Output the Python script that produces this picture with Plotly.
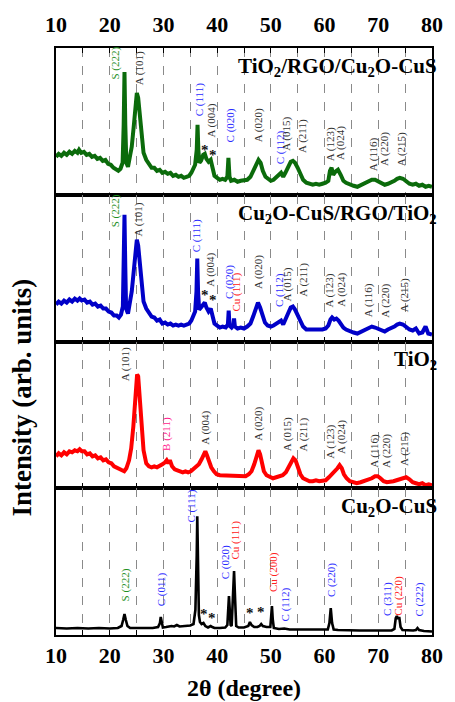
import plotly.graph_objects as go
from plotly.subplots import make_subplots

# ---------------- data (y = intensity in arb. units) ----------------
tt_x = [10.0, 10.5, 11.0, 11.5, 12.0, 12.5, 13.0, 13.5, 14.0, 14.3, 14.7, 15.2, 15.7, 16.2, 16.7, 17.2, 17.7, 18.2, 18.7, 19.2,
        19.7, 20.2, 20.7, 21.2, 21.6, 22.0, 22.4, 22.6, 22.75, 22.9, 23.1, 23.4, 23.7, 24.1, 24.5, 24.8, 25.05, 25.3, 25.6, 25.9,
        26.3, 26.8, 27.3, 27.8, 28.3, 28.8, 29.3, 29.8, 30.3, 30.8, 31.3, 31.8, 32.3, 32.8, 33.3, 33.8, 34.3, 34.8, 35.2, 35.6,
        35.9, 36.2, 36.35, 36.5, 36.7, 37.0, 37.4, 37.7, 38.0, 38.4, 38.8, 39.1, 39.5, 40.0, 40.5, 41.0, 41.5, 41.9, 42.1, 42.3,
        42.6, 43.2, 43.8, 44.4, 45.0, 45.6, 46.2, 46.8, 47.3, 47.7, 48.1, 48.5, 49.0, 49.5, 50.0, 50.5, 51.0, 51.5, 51.9, 52.3,
        52.7, 53.2, 53.7, 54.1, 54.5, 55.0, 55.5, 56.0, 56.6, 57.2, 57.8, 58.4, 59.0, 59.6, 60.2, 60.7, 61.0, 61.3, 61.6, 62.0,
        62.5, 63.0, 63.5, 64.0, 64.7, 65.4, 66.1, 66.8, 67.5, 68.2, 68.8, 69.4, 70.0, 70.6, 71.2, 71.8, 72.4, 73.0, 73.5, 74.0,
        74.6, 75.2, 75.8, 76.4, 77.0, 77.6, 78.2, 78.8, 79.4, 80.0]
tio2_rgo_cu2o_cus = [38, 41, 39, 42, 40, 43, 41, 44, 42, 45, 42, 43, 40, 41, 38, 39, 36, 37, 34, 35,
                     31, 30, 27, 25, 24, 26, 32, 70, 123, 70, 32, 28, 35, 48, 70, 92, 102, 97, 78, 58,
                     42, 35, 30, 27, 27, 24, 25, 22, 23, 21, 22, 19, 20, 18, 19, 17, 18, 19, 22, 28,
                     30, 45, 70, 45, 32, 34, 40, 41, 36, 33, 35, 28, 19, 17, 15, 16, 15, 18, 37, 18,
                     14, 15, 13, 14, 14, 15, 18, 24, 31, 35, 32, 24, 18, 16, 14, 15, 17, 20, 22, 18,
                     22, 28, 33, 34, 32, 27, 20, 15, 12, 11, 10, 11, 10, 11, 12, 14, 24, 27, 20, 23,
                     25, 20, 14, 12, 10, 9, 8, 10, 12, 13, 15, 15, 13, 12, 10, 11, 12, 14, 16, 17,
                     16, 13, 11, 10, 11, 9, 10, 8, 9, 8]

bb_x = [10.0, 10.5, 11.0, 11.5, 12.0, 12.5, 13.0, 13.5, 14.0, 14.4, 14.8, 15.3, 15.8, 16.3, 16.8, 17.3, 17.8, 18.3, 18.8, 19.3,
        19.8, 20.3, 20.8, 21.3, 21.7, 22.1, 22.45, 22.6, 22.75, 22.9, 23.05, 23.4, 23.7, 24.1, 24.5, 24.8, 25.05, 25.3, 25.6, 25.9,
        26.3, 26.8, 27.3, 27.8, 28.3, 28.8, 29.3, 29.8, 30.3, 30.8, 31.3, 31.8, 32.3, 32.8, 33.3, 33.8, 34.3, 34.8, 35.2, 35.6,
        35.9, 36.15, 36.3, 36.45, 36.65, 37.0, 37.4, 37.7, 38.0, 38.4, 38.8, 39.1, 39.5, 40.0, 40.5, 41.0, 41.6, 42.0, 42.15, 42.3,
        42.7, 43.0, 43.15, 43.3, 43.8, 44.4, 45.0, 45.6, 46.2, 46.7, 47.2, 47.6, 48.0, 48.4, 48.9, 49.4, 50.0, 50.5, 51.0, 51.5,
        51.9, 52.3, 52.7, 53.2, 53.7, 54.1, 54.5, 55.0, 55.5, 56.0, 56.6, 57.2, 57.8, 58.4, 59.0, 59.6, 60.2, 60.7, 61.1, 61.4,
        61.8, 62.2, 62.6, 63.0, 63.5, 64.0, 64.7, 65.4, 66.1, 66.8, 67.5, 68.2, 68.8, 69.4, 70.0, 70.6, 71.2, 71.8, 72.4, 73.0,
        73.5, 74.0, 74.6, 75.2, 75.8, 76.4, 77.0, 77.6, 78.2, 78.8, 79.3, 80.0]
cu2o_cus_rgo_tio2 = [37, 40, 38, 41, 39, 42, 40, 43, 41, 43, 41, 42, 39, 40, 37, 38, 35, 36, 33, 33,
                     30, 29, 26, 26, 24, 27, 35, 75, 127, 75, 33, 28, 36, 50, 72, 95, 102, 96, 76, 56,
                     40, 33, 28, 25, 24, 21, 22, 18, 19, 17, 18, 16, 17, 16, 17, 16, 17, 18, 21, 26,
                     30, 50, 83, 50, 32, 34, 38, 39, 34, 30, 33, 26, 18, 16, 14, 15, 14, 17, 31, 16,
                     14, 16, 23, 15, 13, 14, 13, 15, 18, 25, 33, 39, 34, 26, 19, 16, 15, 16, 18, 19,
                     21, 17, 21, 28, 34, 35, 32, 26, 20, 15, 12, 12, 11, 12, 11, 12, 13, 16, 22, 24,
                     22, 23, 21, 18, 14, 12, 10, 9, 8, 10, 12, 13, 15, 14, 13, 11, 10, 12, 13, 15,
                     17, 18, 17, 14, 12, 11, 13, 8, 9, 15, 8, 7]

rr_x = [10.0, 10.5, 11.0, 11.5, 12.0, 12.5, 13.0, 13.5, 14.0, 14.4, 14.8, 15.3, 15.8, 16.3, 16.8, 17.3, 17.8, 18.3, 18.8, 19.3,
        19.8, 20.3, 20.8, 21.3, 21.8, 22.3, 22.7, 23.1, 23.6, 24.0, 24.4, 24.8, 25.1, 25.3, 25.6, 25.9, 26.3, 26.8, 27.3, 27.8,
        28.3, 28.8, 29.3, 29.8, 30.3, 30.6, 30.9, 31.2, 31.6, 32.1, 32.6, 33.1, 33.6, 34.1, 34.6, 35.1, 35.6, 36.1, 36.6, 37.1,
        37.5, 37.8, 38.1, 38.5, 38.9, 39.4, 39.9, 40.5, 41.1, 41.7, 42.3, 42.9, 43.5, 44.1, 44.7, 45.3, 45.9, 46.4, 46.9, 47.3,
        47.7, 48.0, 48.3, 48.7, 49.2, 49.8, 50.4, 51.0, 51.6, 52.2, 52.8, 53.3, 53.8, 54.2, 54.6, 55.0, 55.5, 56.0, 56.6, 57.2,
        57.8, 58.4, 59.0, 59.6, 60.2, 60.8, 61.4, 61.9, 62.4, 62.8, 63.2, 63.6, 64.1, 64.7, 65.3, 66.0, 66.7, 67.4, 68.1, 68.8,
        69.4, 69.9, 70.4, 71.0, 71.6, 72.2, 72.8, 73.4, 74.0, 74.6, 75.2, 75.8, 76.4, 77.0, 77.6, 78.2, 78.8, 79.4, 80.0]
tio2 = [32, 35, 33, 36, 34, 37, 36, 38, 37, 39, 37, 37, 34, 35, 32, 33, 30, 31, 28, 29,
        26, 25, 22, 21, 19, 18, 17, 20, 28, 40, 62, 95, 114, 112, 90, 60, 38, 25, 22, 21,
        22, 21, 22, 24, 26, 28, 25, 28, 22, 19, 18, 17, 16, 17, 16, 17, 19, 21, 24, 29,
        35, 37, 33, 26, 21, 17, 14, 13, 13, 12, 13, 12, 13, 12, 13, 12, 14, 17, 24, 32,
        38, 34, 25, 17, 13, 11, 10, 11, 12, 13, 16, 21, 28, 30, 28, 21, 14, 10, 8, 7,
        7, 8, 7, 8, 8, 11, 14, 17, 20, 23, 20, 14, 10, 7, 6, 5, 6, 7, 8, 10,
        12, 12, 10, 7, 6, 6, 7, 8, 9, 11, 11, 9, 6, 5, 4, 5, 3, 4, 3]

kk_x = [10.0, 12.0, 14.0, 16.0, 18.0, 20.0, 21.5, 22.2, 22.5, 22.75, 23.0, 23.3, 23.8, 25.0, 26.0, 27.0, 28.0, 29.0, 29.35, 29.5,
        29.65, 29.9, 30.5, 31.5, 32.0, 32.5, 33.0, 34.0, 35.0, 35.6, 35.95, 36.2, 36.3, 36.42, 36.6, 36.8, 37.1, 37.45, 37.8, 38.3,
        38.8, 39.1, 39.5, 40.5, 41.5, 41.9, 42.05, 42.2, 42.35, 42.5, 42.7, 42.95, 43.15, 43.35, 43.55, 44.0, 45.0, 45.8, 46.1, 46.4,
        46.9, 47.5, 47.9, 48.2, 48.5, 49.2, 49.9, 50.05, 50.2, 50.35, 50.55, 51.5, 52.5, 53.5, 54.5, 55.5, 57.5, 59.5, 60.6, 60.9,
        61.15, 61.4, 61.7, 62.5, 64.5, 66.5, 68.5, 70.5, 72.5, 73.0, 73.25, 73.45, 73.7, 73.9, 74.15, 74.5, 75.5, 76.5, 77.0, 77.3,
        77.6, 78.5, 80.0]
cu2o_cus = [7, 6.5, 7, 6.5, 7, 6.5, 7, 9, 15, 21, 15, 9, 7, 7, 7.5, 7, 7, 8, 12, 18,
            12, 7.5, 8, 9, 8.5, 10, 8.5, 9, 9.5, 11, 25, 80, 119, 80, 20, 13, 11, 12, 9, 7.5,
            9, 8, 7, 7, 7.5, 10, 25, 39, 25, 10, 9, 35, 64, 35, 9, 7.5, 7.5, 9, 13, 10,
            8, 8, 9, 11, 9, 8, 8, 18, 29, 16, 7, 6, 6.5, 5.5, 5.5, 5, 5, 5, 5.5, 12,
            27, 12, 5.5, 5, 4.5, 4.5, 4.5, 4.5, 4.5, 6, 17, 19, 16, 18, 8, 5, 4.5, 4.5, 5, 7,
            5, 4, 3.5]

panel_titles = ["TiO<sub>2</sub>/RGO/Cu<sub>2</sub>O-CuS", "Cu<sub>2</sub>O-CuS/RGO/TiO<sub>2</sub>",
                "TiO<sub>2</sub>", "Cu<sub>2</sub>O-CuS"]
x_tick_values = [10, 20, 30, 40, 50, 60, 70, 80]
x_tick_labels = ["10", "20", "30", "40", "50", "60", "70", "80"]

# peak labels per panel: (text, 2theta, intensity at label foot, phase)
labels_p1 = [("S (222)", 21.0, 113, "S"), ("A (101)", 25.7, 108, "A"), ("C (111)", 36.6, 77, "C"),
             ("A (004)", 39.0, 55, "A"), ("C (020)", 42.5, 50, "C"), ("A (020)", 47.7, 50, "A"),
             ("C (112)", 51.8, 28, "C"), ("A (015)", 53.0, 42, "A"), ("A (211)", 56.0, 40, "A"),
             ("A (123)", 61.1, 32, "A"), ("A (024)", 63.1, 33, "A"), ("A (116)", 69.1, 22, "A"),
             ("A (220)", 71.3, 27, "A"), ("A (215)", 74.3, 27, "A")]
labels_p2 = [("S (222)", 21.0, 112, "S"), ("A (101)", 25.4, 103, "A"), ("C (111)", 36.1, 87, "C"),
             ("A (004)", 38.7, 53, "A"), ("C (020)", 42.3, 40, "C"), ("Cu (111)", 43.6, 28, "Cu"),
             ("A (020)", 47.7, 50, "A"), ("C (112)", 51.6, 33, "C"), ("A (015)", 53.2, 38, "A"),
             ("A (211)", 56.0, 43, "A"), ("A (123)", 61.0, 32, "A"), ("A (024)", 63.1, 33, "A"),
             ("A (116)", 68.2, 22, "A"), ("A (220)", 71.3, 22, "A"), ("A (215)", 74.9, 27, "A")]
labels_p3 = [("A (101)", 23.0, 105, "A"), ("B (211)", 30.6, 35, "B"), ("A (004)", 37.8, 42, "A"),
             ("A (020)", 47.7, 45, "A"), ("A (015)", 53.0, 35, "A"), ("A (211)", 56.0, 35, "A"),
             ("A (123)", 61.1, 28, "A"), ("A (024)", 63.2, 32, "A"), ("A (116)", 69.3, 18, "A"),
             ("A (220)", 71.4, 18, "A"), ("A (215)", 74.9, 20, "A")]
labels_p4 = [("S (222)", 23.0, 32, "S"), ("C (011)", 29.6, 27, "C"), ("C (111)", 35.3, 111, "C"),
             ("C (020)", 41.5, 54, "C"), ("Cu (111)", 43.5, 74, "Cu"), ("Cu (200)", 50.4, 41, "Cu"),
             ("C (112)", 52.7, 12, "C"), ("C (220)", 61.2, 36, "C"), ("C (311)", 71.6, 17, "C"),
             ("Cu (220)", 73.6, 17, "Cu"), ("C (222)", 77.5, 16, "C")]
# unidentified peaks marked with "*": (2theta, intensity)
stars_p1 = [(37.8, 45), (39.3, 40)]
stars_p2 = [(37.8, 47), (39.3, 42)]
stars_p4 = [(37.6, 21), (39.1, 17), (46.2, 22), (48.2, 23)]

# ---------------- styling ----------------
FONT = "Liberation Serif"
line_colors = ["#0b6b0b", "#0000c8", "#ff0000", "#000000"]
line_widths = [4, 4, 4, 2.6]
phase_colors = {"A": "#333333", "S": "#1f8f1f", "C": "#2a2aff", "Cu": "#ff2020", "B": "#ff1a8c"}

fig = make_subplots(rows=4, cols=1, shared_xaxes=True, vertical_spacing=0)

series = [(tt_x, tio2_rgo_cu2o_cus), (bb_x, cu2o_cus_rgo_tio2), (rr_x, tio2), (kk_x, cu2o_cus)]
for i, (xs, ys) in enumerate(series):
    fig.add_trace(go.Scatter(x=xs, y=ys, mode="lines", showlegend=False,
                             line=dict(color=line_colors[i], width=line_widths[i])), row=i + 1, col=1)

all_labels = [labels_p1, labels_p2, labels_p3, labels_p4]
all_stars = [stars_p1, stars_p2, [], stars_p4]
annotations = []
for i in range(4):
    xr = "x" if i == 0 else f"x{i + 1}"
    yr = "y" if i == 0 else f"y{i + 1}"
    for text, xv, yv, ph in all_labels[i]:
        annotations.append(dict(x=xv, y=yv, xref=xr, yref=yr, text=text, showarrow=False,
                                textangle=-90, xanchor="center", yanchor="bottom",
                                font=dict(family=FONT, size=11, color=phase_colors[ph])))
    for xv, yv in all_stars[i]:
        annotations.append(dict(x=xv, y=yv, xref=xr, yref=yr, text="*", showarrow=False,
                                xanchor="center", yanchor="middle",
                                font=dict(family=FONT, size=15, color="#111111", weight="bold")))
    annotations.append(dict(x=0.997, y=143, xref="paper", yref=yr, text=panel_titles[i], showarrow=False,
                            xanchor="right", yanchor="top", xshift=8,
                            font=dict(family=FONT, size=21, color="black", weight="bold")))

annotations.append(dict(x=-0.09, y=0.405, xref="paper", yref="paper", text="Intensity (arb. units)",
                        showarrow=False, textangle=-90, xanchor="center", yanchor="middle",
                        font=dict(family=FONT, size=27, color="black", weight="bold")))
annotations.append(dict(x=0.5, y=-0.09, xref="paper", yref="paper", text="2θ (degree)",
                        showarrow=False, xanchor="center", yanchor="middle",
                        font=dict(family=FONT, size=24, color="black", weight="bold")))

for i in range(4):
    fig.update_xaxes(range=[10, 80], showline=True, mirror=True, linecolor="black", linewidth=1.6,
                     showgrid=True, gridcolor="#8a8a8a", griddash="dash", gridwidth=1,
                     tickmode="array", tickvals=x_tick_values, ticktext=x_tick_labels,
                     ticks="inside", ticklen=5, tickcolor="black", tickwidth=1,
                     minor=dict(dtick=5, tick0=10, showgrid=True, gridcolor="#8a8a8a", griddash="dash",
                                gridwidth=1, ticks="inside", ticklen=5, tickcolor="black"),
                     zeroline=False,
                     tickfont=dict(family=FONT, size=22, color="black", weight="bold"),
                     showticklabels=(i in (0, 3)), row=i + 1, col=1)
    fig.update_yaxes(range=[0, 147], showline=True, mirror=True, linecolor="black", linewidth=1.6,
                     showgrid=False, zeroline=False, showticklabels=False, ticks="", row=i + 1, col=1)
fig.update_xaxes(side="top", ticklabelstandoff=5, row=1, col=1)

fig.update_layout(width=455, height=702, margin=dict(l=56, r=12, t=46, b=67),
                  paper_bgcolor="white", plot_bgcolor="white", annotations=annotations,
                  font=dict(family=FONT))
fig.write_html("out.html")
